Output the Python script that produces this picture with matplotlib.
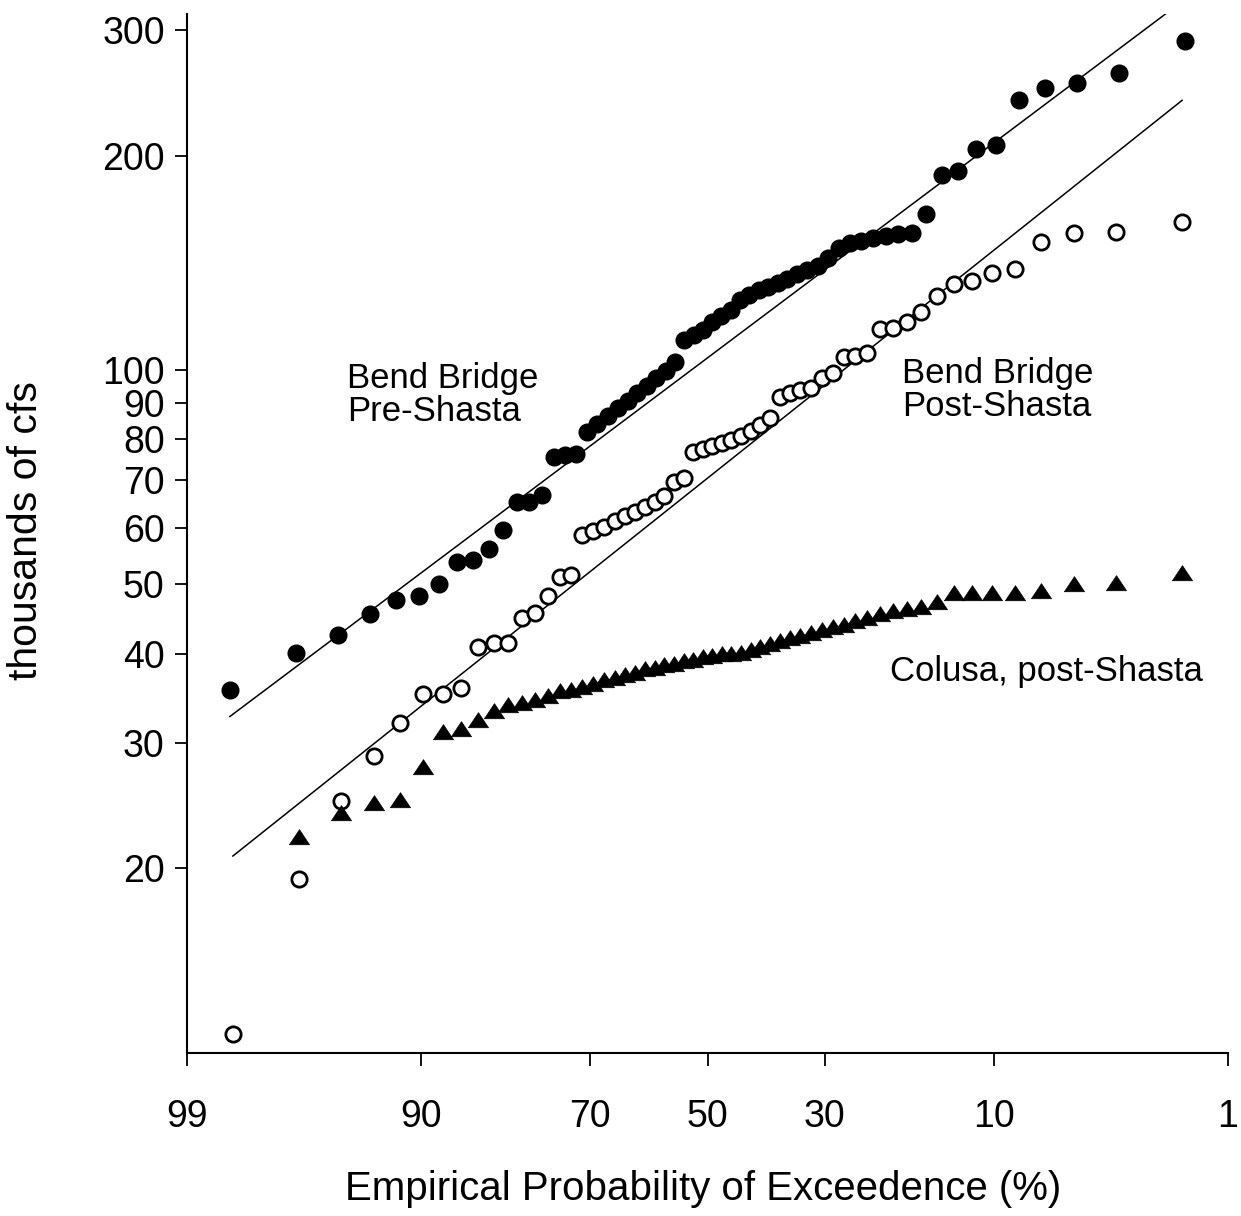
import numpy as np
import matplotlib
matplotlib.use("Agg")
import matplotlib.pyplot as plt
from matplotlib.ticker import FixedLocator, FixedFormatter, NullLocator
from statistics import NormalDist

# ---------------- data (thousands of cfs, sorted ascending) ----------------
pre_shasta = [35.6, 40.1, 42.5, 45.5, 47.6, 48.2, 50.0, 53.7, 54.2, 56.0,
              59.7, 65.3, 65.3, 66.8, 75.5, 76.0, 76.3,
              81.9, 84.0, 86.2, 88.5, 90.5, 92.9, 95.0, 97.5, 99.7, 102.7,
              110.2, 112.0, 113.8, 116.8, 119.1, 121.5, 125.5, 127.5, 129.6,
              130.8, 132.6, 134.3, 136.5, 138.2, 140.0, 143.7, 148.4, 150.8,
              151.8, 153.2, 154.2, 155.2, 155.7,
              165.6, 187.8, 190.2, 204.2, 206.9, 239.0, 248.8, 252.7, 261.0, 289.8]

post_shasta = [11.7, 19.3, 24.8, 28.7, 32.0, 35.1, 35.1, 35.8, 40.9, 41.4,
               41.4, 44.9, 45.6, 48.1, 51.3, 51.6,
               58.7, 59.5, 60.3, 61.3, 62.3, 63.3, 64.3, 65.3, 66.6, 69.7, 70.6,
               76.8, 77.5, 78.3, 79.1, 79.8, 80.9, 82.2, 83.8, 85.7,
               91.7, 92.9, 93.8, 94.4, 97.5, 99.1, 104.4, 104.7, 105.7, 114.2,
               114.6, 116.8, 120.7, 127.1, 132.1, 133.4, 136.9, 138.7, 151.3,
               155.7, 156.2, 161.4]

colusa_post = [22.1, 23.9, 24.7, 24.9, 27.7, 31.0, 31.3, 32.3, 33.2, 33.9,
               34.1, 34.4, 34.9, 35.4, 35.6, 35.9, 36.3, 36.7, 37.0, 37.3,
               37.6, 38.0, 38.2, 38.5, 38.7, 39.0, 39.2, 39.5, 39.7, 39.9,
               40.0, 40.1, 40.4, 40.8, 41.2, 41.6, 42.0, 42.4, 42.8, 43.2,
               43.6, 43.9, 44.4, 44.9, 45.5, 45.9, 46.2, 46.5, 47.2,
               48.7, 48.7, 48.7, 48.7, 48.9, 50.0, 50.3, 51.9]
colusa_record_length = 58

# lognormal fit lines: (median thousands of cfs, log10 standard deviation)
pre_fit = (104.0, 0.2358)
post_fit = (70.5, 0.250)

x_ticks = [99, 90, 70, 50, 30, 10, 1]
x_ticklabels = ["99", "90", "70", "50", "30", "10", "1"]
y_ticks = [20, 30, 40, 50, 60, 70, 80, 90, 100, 200, 300]
y_ticklabels = [str(v) for v in y_ticks]

labels = {
    "pre": "Bend Bridge\nPre-Shasta",
    "post": "Bend Bridge\nPost-Shasta",
    "colusa": "Colusa, post-Shasta",
}

# ---------------- helpers ----------------
_nd = NormalDist()
_ppf = np.vectorize(_nd.inv_cdf, otypes=[float])
_cdf = np.vectorize(_nd.cdf, otypes=[float])


def fwd(p):
    p = np.asarray(p, dtype=float)
    q = np.clip(p / 100.0, 1e-9, 1 - 1e-9)
    return _ppf(q)


def inv(z):
    z = np.asarray(z, dtype=float)
    return _cdf(z) * 100.0


def exceedance(n, ranks):
    ranks = np.asarray(ranks, dtype=float)
    return 100.0 * (1.0 - ranks / (n + 1.0))


def fit_values(fit, exc):
    med, sd = fit
    z = _ppf(1.0 - np.asarray(exc) / 100.0)
    return 10 ** (np.log10(med) + sd * z)


plt.rcParams["font.family"] = ["Liberation Sans", "DejaVu Sans"]

W, H = 1241, 1216
fig = plt.figure(figsize=(W / 100, H / 100), dpi=100)
ax = fig.add_axes([187 / W, 1 - 1053 / H, (1228 - 187) / W, (1053 - 14) / H])

ax.set_xscale("function", functions=(fwd, inv))
ax.set_yscale("log")

wide_triangle = [(-1.0, -0.72), (1.0, -0.72), (0.0, 0.78), (-1.0, -0.72)]

# pre-Shasta
n_pre = len(pre_shasta)
x_pre = exceedance(n_pre, np.arange(1, n_pre + 1))
ax.plot(x_pre, pre_shasta, linestyle="none", marker="o", ms=12,
        mfc="black", mec="black", zorder=3)
line_x = x_pre[[0, -1]]
ax.plot(line_x, fit_values(pre_fit, line_x), color="black", lw=1.1, zorder=2)

# post-Shasta
n_post = len(post_shasta)
x_post = exceedance(n_post, np.arange(1, n_post + 1))
ax.plot(x_post, post_shasta, linestyle="none", marker="o", ms=11,
        mfc="white", mec="black", mew=2.0, zorder=3)
line_x2 = x_post[[0, -1]]
ax.plot(line_x2, fit_values(post_fit, line_x2), color="black", lw=1.1, zorder=2)

# Colusa
n_col = colusa_record_length
ranks_col = np.arange(n_col - len(colusa_post) + 1, n_col + 1)
x_col = exceedance(n_col, ranks_col)
ax.plot(x_col, colusa_post, linestyle="none", marker=wide_triangle, ms=14.5,
        mfc="black", mec="black", mew=0.5, zorder=3)

# axes
ax.set_xlim(99, 1)
ax.set_ylim(11.0, 316)
ax.xaxis.set_major_locator(FixedLocator(x_ticks))
ax.xaxis.set_major_formatter(FixedFormatter(x_ticklabels))
ax.xaxis.set_minor_locator(NullLocator())
ax.yaxis.set_major_locator(FixedLocator(y_ticks))
ax.yaxis.set_major_formatter(FixedFormatter(y_ticklabels))
ax.yaxis.set_minor_locator(NullLocator())

for s in ("top", "right"):
    ax.spines[s].set_visible(False)
for s in ("left", "bottom"):
    ax.spines[s].set_linewidth(1.5)

ax.tick_params(axis="both", which="major", direction="out", length=9,
               width=1.3, labelsize=27, colors="black")
ax.tick_params(axis="y", pad=7)
ax.tick_params(axis="x", pad=24)

ax.set_xlabel("Empirical Probability of Exceedence (%)", fontsize=29)
ax.set_ylabel("thousands of cfs", fontsize=29.5)
ax.xaxis.set_label_coords(0.4957, -0.113)
ax.yaxis.set_label_coords(-0.136, 0.503)

ax.text(0.1537, 0.6333, labels["pre"], transform=ax.transAxes, fontsize=25,
        ha="left", va="center", linespacing=1.0)
ax.text(0.6869, 0.638, labels["post"], transform=ax.transAxes, fontsize=25,
        ha="left", va="center", linespacing=1.0)
ax.text(0.6753, 0.3667, labels["colusa"], transform=ax.transAxes, fontsize=25,
        ha="left", va="center")

fig.savefig("out.png", dpi=100)
